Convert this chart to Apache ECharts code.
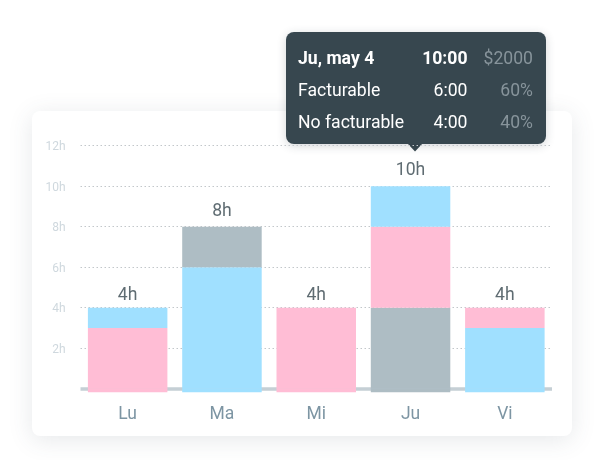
<!DOCTYPE html>
<html>
<head>
    <meta charset="utf-8"/>
    <style>
        html,body { height:100%; width:100%; margin:0; padding:0; background:#fff; }
    </style>
</head>
<body>
<div id="chart" style="width:604px;height:460px"></div>

<script src="https://cdn.jsdelivr.net/npm/echarts@6/dist/echarts.min.js"></script>
<script type="text/javascript">
 // data, one list per stacked layer (bottom to top)
 var days = ['Lu', 'Ma', 'Mi', 'Ju', 'Vi'];
 var pinkLow = [3, null, 4, null, null];
 var blueLow = [null, 6, null, null, 3];
 var grey = [null, 2, null, 4, null];
 var pinkHigh = [null, null, null, 4, 1];
 var blueHigh = [1, null, null, 2, null];
 var totals = [4, 8, 4, 10, 4];
 var yTicks = [0, 2, 4, 6, 8, 10, 12];

 // tooltip box texts
 var tipLabels = ['Ju, may 4', 'Facturable', 'No facturable'];
 var tipHours = ['10:00', '6:00', '4:00'];
 var tipShares = ['$2000', '60%', '40%'];

 var BLUE = '#a0e0ff', PINK = '#ffbdd5', GREY = '#aebdc4';
 var FONT = 'Roboto';
 var layers = [[pinkLow, PINK], [blueLow, BLUE], [grey, GREY], [pinkHigh, PINK], [blueHigh, BLUE]];

 function layerSeries(layer) {
    return {
        type: 'bar',
        stack: 'hours',
        barWidth: 79.5,
        data: layer[0],
        itemStyle: { color: layer[1] },
        z: 3
    };
 }

 // bars in the picture run a little past the axis band, on the colour of their lowest layer
 function footItem(params, api) {
    var i = api.value(0);
    var base = api.coord([i, 0]);
    var color = layers.filter(function (l) { return l[0][i] != null; })[0][1];
    return {
        type: 'rect',
        shape: { x: base[0] - 39.75, y: base[1] - 0.5, width: 79.5, height: 4 },
        style: { fill: color }
    };
 }

 // the taller bars sit a bit further from their label in the picture
 function totalItem(v) {
    return { value: v, label: { distance: v > 4 ? 6.5 : 3 } };
 }

 function tipTexts() {
    var out = [];
    var rowY = [60, 92, 123.5];
    for (var r = 0; r < tipLabels.length; r++) {
        var weight = r === 0 ? 'bold' : 'normal';
        out.push({ type: 'text', x: 298, y: rowY[r], style: { text: tipLabels[r], fill: '#fff', font: weight + ' 17.6px ' + FONT, textAlign: 'left', textVerticalAlign: 'middle' } });
        out.push({ type: 'text', x: 467.5, y: rowY[r], style: { text: tipHours[r], fill: '#fff', font: weight + ' 17.6px ' + FONT, textAlign: 'right', textVerticalAlign: 'middle' } });
        out.push({ type: 'text', x: 533, y: rowY[r], style: { text: tipShares[r], fill: '#87949b', font: 'normal 17.6px ' + FONT, textAlign: 'right', textVerticalAlign: 'middle' } });
    }
    return out;
 }

 var options = {
    animation: false,
    textStyle: { fontFamily: FONT },
    grid: { left: 80.5, right: 52, top: 145.7, height: 243 },
    xAxis: {
        type: 'category',
        data: days,
        offset: 1.7,
        axisLine: { lineStyle: { color: '#c5cfd5', width: 3.5, cap: 'butt' } },
        axisTick: { show: false },
        axisLabel: { color: '#7d95a3', fontSize: 17.5, margin: 15 }
    },
    yAxis: {
        type: 'value',
        min: yTicks[0],
        max: yTicks[yTicks.length - 1],
        interval: 2,
        axisLine: { show: false },
        axisTick: { show: false },
        axisLabel: {
            color: '#cfd8de',
            fontSize: 12,
            margin: 15,
            verticalAlign: 'top',
            lineHeight: 3,
            formatter: function (v) { return v === 0 ? '' : v + 'h'; }
        },
        splitLine: { showMinLine: false, lineStyle: { color: '#c2c7ca', type: [1.5, 2.5], width: 1 } }
    },
    series: layers.map(layerSeries).concat([
        {
            type: 'custom',
            data: days.map(function (d, i) { return [i, 0]; }),
            renderItem: footItem,
            z: 3,
            silent: true
        },
        {
            type: 'scatter',
            data: totals.map(totalItem),
            symbolSize: 0,
            z: 4,
            label: {
                show: true,
                position: 'top',
                color: '#37474f',
                fontSize: 17.6,
                formatter: function (p) { return p.value + 'h'; }
            }
        }
    ]),
    graphic: [
        {
            type: 'rect', z: -10, silent: true,
            shape: { x: 32, y: 111, width: 540, height: 325, r: 8 },
            style: { fill: '#fff', shadowBlur: 24, shadowColor: 'rgba(60,80,90,0.13)', shadowOffsetY: 4 }
        },
        {
            type: 'group', z: 100, silent: true,
            children: [
                {
                    type: 'polygon',
                    shape: { points: [[407.5, 143.5], [422.5, 143.5], [415, 151.5]] },
                    style: { fill: '#37474f' }
                },
                {
                    type: 'rect',
                    shape: { x: 286, y: 32, width: 260, height: 112, r: 8 },
                    style: { fill: '#37474f', shadowBlur: 10, shadowColor: 'rgba(40,55,65,0.2)', shadowOffsetY: 2 }
                }
            ].concat(tipTexts())
        }
    ]
 };

 var myChart = echarts.init(document.getElementById('chart'));
 myChart.setOption(options);
</script>
</body>
</html>
